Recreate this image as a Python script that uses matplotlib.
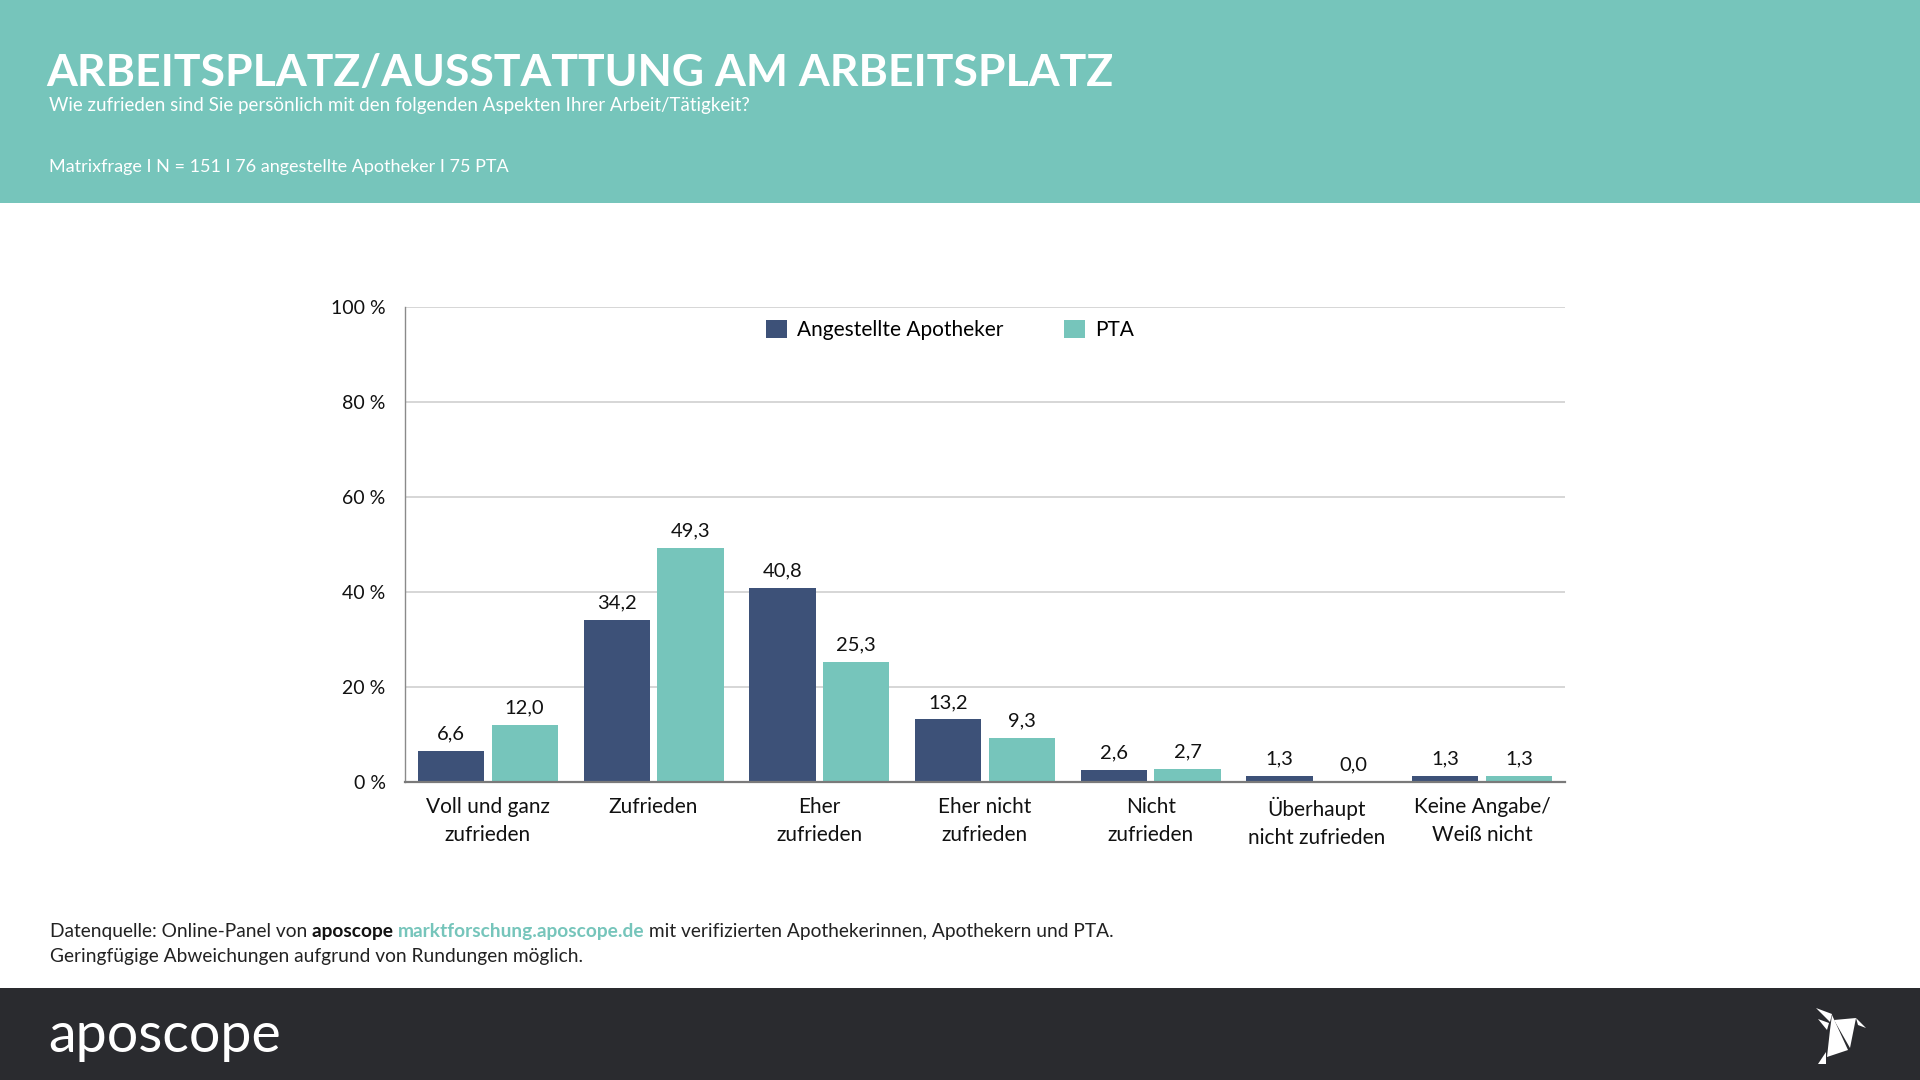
import matplotlib
matplotlib.use("Agg")
import matplotlib.pyplot as plt
from matplotlib.patches import Rectangle, Polygon
from matplotlib import font_manager
import numpy as np

categories = ["Voll und ganz\nzufrieden", "Zufrieden", "Eher\nzufrieden", "Eher nicht\nzufrieden",
              "Nicht\nzufrieden", "Überhaupt\nnicht zufrieden", "Keine Angabe/\nWeiß nicht"]
series_names = ["Angestellte Apotheker", "PTA"]
apotheker = [6.6, 34.2, 40.8, 13.2, 2.6, 1.3, 1.3]
pta = [12.0, 49.3, 25.3, 9.3, 2.7, 0.0, 1.3]
yticks = [0, 20, 40, 60, 80, 100]
ytick_labels = ["0 %", "20 %", "40 %", "60 %", "80 %", "100 %"]

NAVY = "#3d5178"
TEAL = "#76c5bb"
DARK = "#2a2b2f"
FONT = ["Lato", "DejaVu Sans"]
plt.rcParams['font.family'] = FONT

installed = {f.name for f in font_manager.fontManager.ttflist}
if "Liberation Sans Narrow" in installed:
    TITLE_FONT, TITLE_SIZE = ["Liberation Sans Narrow", "DejaVu Sans"], 37
else:
    TITLE_FONT, TITLE_SIZE = FONT, 32

W, H = 1920, 1080
fig = plt.figure(figsize=(19.2, 10.8), dpi=100)

fig.patches.append(Rectangle((0, 1 - 203 / H), 1, 203 / H, transform=fig.transFigure,
                             facecolor=TEAL, edgecolor="none", zorder=0))
fig.patches.append(Rectangle((0, 0), 1, 92 / H, transform=fig.transFigure,
                             facecolor=DARK, edgecolor="none", zorder=0))

fig.text(46 / W, 1 - 86 / H, "ARBEITSPLATZ/AUSSTATTUNG AM ARBEITSPLATZ", color="white",
         fontsize=TITLE_SIZE, fontweight="bold", va="baseline", ha="left", family=TITLE_FONT)
fig.text(49 / W, 1 - 111 / H, "Wie zufrieden sind Sie persönlich mit den folgenden Aspekten Ihrer Arbeit/Tätigkeit?",
         color="white", fontsize=13.5, va="baseline", ha="left")
fig.text(49 / W, 1 - 172 / H, "Matrixfrage I N = 151 I 76 angestellte Apotheker I 75 PTA",
         color="white", fontsize=13, va="baseline", ha="left")

FS_SRC = 13.8
t1 = fig.text(50 / W, 1 - 937 / H, "Datenquelle: Online-Panel von ", color="#222222", fontsize=FS_SRC, va="baseline")
fig.canvas.draw()
r = fig.canvas.get_renderer()
bb = t1.get_window_extent(r)
t2 = fig.text(bb.x1 / W, 1 - 937 / H, "aposcope ", color="#111111", fontsize=FS_SRC, fontweight="bold", va="baseline")
bb2 = t2.get_window_extent(r)
t3 = fig.text(bb2.x1 / W, 1 - 937 / H, "marktforschung.aposcope.de", color=TEAL, fontsize=FS_SRC, fontweight="bold", va="baseline")
bb3 = t3.get_window_extent(r)
fig.text(bb3.x1 / W, 1 - 937 / H, " mit verifizierten Apothekerinnen, Apothekern und PTA.", color="#222222",
         fontsize=FS_SRC, va="baseline")
fig.text(50 / W, 1 - 962 / H, "Geringfügige Abweichungen aufgrund von Rundungen möglich.", color="#222222",
         fontsize=FS_SRC, va="baseline")

fig.text(48 / W, 1 - 1052 / H, "aposcope", color="white", fontsize=40, va="baseline", ha="left")

def fig_poly(pts):
    p = Polygon([(x / W, 1 - y / H) for x, y in pts], closed=True, transform=fig.transFigure,
                facecolor="white", edgecolor="none")
    fig.patches.append(p)

fig_poly([(1816, 1008), (1832, 1014), (1830, 1022)])
fig_poly([(1818, 1019), (1829, 1023), (1827, 1030)])
fig_poly([(1832, 1015), (1848, 1050), (1827, 1057), (1830, 1030)])
fig_poly([(1834, 1020), (1856, 1018), (1850, 1048)])
fig_poly([(1856, 1018), (1866, 1028), (1858, 1025)])
fig_poly([(1826, 1052), (1826, 1064), (1818, 1064)])

ax = fig.add_axes([405 / W, 1 - 782 / H, (1565 - 405) / W, (782 - 307) / H])
x = np.arange(len(categories))
bw = 0.40
off = 0.222
b1 = ax.bar(x - off, apotheker, width=bw, color=NAVY, zorder=3, label=series_names[0])
b2 = ax.bar(x + off, pta, width=bw, color=TEAL, zorder=3, label=series_names[1])

for bars, vals in ((b1, apotheker), (b2, pta)):
    for rect, v in zip(bars, vals):
        ax.annotate(f"{v:.1f}".replace(".", ","), (rect.get_x() + rect.get_width() / 2, v),
                    xytext=(0, 6), textcoords="offset points", ha="center", va="bottom",
                    fontsize=14.5, color="#111111")

ax.set_xlim(-0.5, len(categories) - 0.5)
ax.set_ylim(0, 100)
ax.set_yticks(yticks)
ax.set_yticklabels(ytick_labels, fontsize=14, color="#111111")
ax.set_xticks(x)
ax.set_xticklabels(categories, fontsize=15, color="#111111", linespacing=1.5)
ax.tick_params(axis="both", length=0)
ax.tick_params(axis="y", pad=14)
ax.tick_params(axis="x", pad=11)
ax.grid(axis="y", color="#cfcfcf", linewidth=1.2, zorder=0)
ax.set_axisbelow(True)
for s in ("top", "right"):
    ax.spines[s].set_visible(False)
ax.spines["left"].set_color("#8a8a8a")
ax.spines["left"].set_linewidth(1.0)
ax.spines["bottom"].set_color("#7a7a7a")
ax.spines["bottom"].set_linewidth(1.6)
ax.spines["bottom"].set_zorder(4)

ax.legend(loc="upper left", bbox_to_anchor=(0.295, 1.013), ncol=2, frameon=False,
          fontsize=15, handlelength=1.0, handleheight=1.0, columnspacing=2.9, handletextpad=0.5)

fig.savefig("out.png", dpi=100)
